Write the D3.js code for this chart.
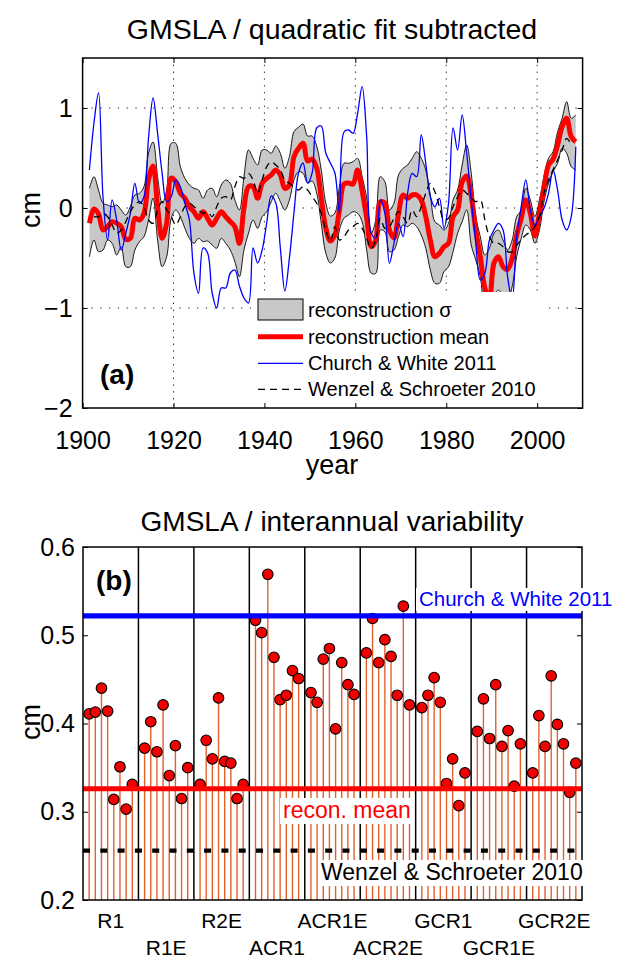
<!DOCTYPE html>
<html>
<head>
<meta charset="utf-8">
<script src="https://cdn.jsdelivr.net/npm/d3@7"></script>
<style>
body { margin: 0; background: #fff; }
text { font-family: "Liberation Sans", Arial, Helvetica, sans-serif; }
</style>
</head>
<body>
<svg id="chart" width="637" height="962"></svg>
<script>
// ---- panel (a): GMSLA anomalies, quadratic fit removed (cm) ----
const years = d3.range(1901.5, 2009, 1);

const reconMean = [
  -0.153, -0.01, -0.06, -0.22, -0.187, -0.137, -0.153, -0.187, -0.313, -0.303, -0.103, -0.12, -0.053, 0.28, 0.42, 0.013, -0.303, -0.15, 0.30, 0.263, 0.147, 0.097, 0.013, -0.037, -0.103, -0.037, -0.103,
  -0.17, -0.103, -0.037, -0.087, -0.137, -0.187, -0.353, 0.0, 0.213, 0.213, 0.097, 0.247, 0.297, 0.33, 0.38, 0.33, 0.197, 0.23, 0.513, 0.597, 0.647, 0.47, 0.49, 0.40, 0.1, -0.2, -0.33, -0.27,
  -0.02, 0.24, 0.25, 0.24, 0.38, 0.17, -0.1, -0.387, -0.32, 0.06, 0.05, -0.22, -0.3, -0.06, 0.13, 0.097, 0.13, 0.13, 0.08, -0.087, -0.32, -0.487, -0.453, -0.387, -0.353, -0.087, -0.02,
  0.26, 0.32, 0.12, -0.22, -0.487, -0.8, -0.92, -0.55, -0.487, -0.587, -0.613, -0.503, -0.27, -0.103, 0.08, -0.053, -0.28, -0.053, 0.197, 0.43, 0.487, 0.63, 0.813, 0.897, 0.713, 0.663
];
const sigmaUpper = [
  0.197, 0.313, 0.18, 0.047, 0.03, 0.013, 0.03, -0.02, -0.07, 0.013, 0.13, 0.147, 0.213, 0.547, 0.66, 0.313, 0.047, 0.18, 0.647, 0.647, 0.413, 0.297, 0.23, 0.197, 0.18, 0.097, 0.18,
  0.197, 0.113, 0.23, 0.28, 0.247, 0.08, -0.02, 0.313, 0.58, 0.497, 0.43, 0.58, 0.58, 0.547, 0.62, 0.547, 0.397, 0.513, 0.763, 0.807, 0.84, 0.72, 0.72, 0.62, 0.38, 0.05, -0.08, -0.05,
  0.213, 0.447, 0.447, 0.463, 0.497, 0.313, 0.1, -0.253, -0.12, 0.313, 0.263, -0.02, 0.047, 0.33, 0.397, 0.43, 0.497, 0.563, 0.497, 0.38, 0.13, -0.137, -0.17, -0.22, -0.153, 0.08, 0.18,
  0.43, 0.63, 0.347, -0.087, -0.287, -0.47, -0.403, -0.253, -0.22, -0.32, -0.42, -0.32, -0.087, -0.02, 0.197, 0.08, -0.087, 0.08, 0.313, 0.497, 0.563, 0.763, 0.897, 1.063, 0.897, 0.93
];
const sigmaLower = [
  -0.487, -0.32, -0.437, -0.42, -0.32, -0.353, -0.47, -0.387, -0.587, -0.587, -0.42, -0.337, -0.287, -0.12, 0.1, -0.32, -0.587, -0.487, -0.103, -0.02, -0.087, -0.203, -0.303, -0.353, -0.303, -0.337, -0.33,
  -0.37, -0.403, -0.303, -0.353, -0.42, -0.537, -0.687, -0.42, -0.253, -0.12, -0.203, -0.087, -0.037, 0.063, 0.147, 0.063, -0.02, 0.08, 0.28, 0.363, 0.347, 0.25, 0.27, 0.15, -0.15, -0.45, -0.55, -0.5,
  -0.22, -0.103, -0.07, -0.037, -0.053, -0.137, -0.42, -0.653, -0.653, -0.22, -0.237, -0.437, -0.42, -0.287, -0.17, -0.187, -0.153, -0.187, -0.27, -0.403, -0.62, -0.753, -0.753, -0.637, -0.587, -0.437, -0.253,
  -0.137, -0.02, -0.37, -0.52, -0.687, -1.0, -1.05, -0.887, -0.82, -0.887, -0.92, -0.787, -0.487, -0.303, -0.17, -0.22, -0.353, -0.22, 0.063, 0.247, 0.363, 0.447, 0.597, 0.547, 0.413, 0.38
];
const churchWhite = [
  0.38, 0.85, 1.15, 0.1, -0.32, 0.08, -0.12, -0.42, -0.253, -0.053, 0.247, 0.047, 0.113, 0.7, 1.1, 0.747, 0.347, 0.063, 0.113, 0.28, 0.213, 0.047, -0.12, -0.653, -0.853, -0.4, -0.45,
  -0.85, -1.0, -0.8, -0.8, -0.65, -0.62, -0.78, -0.9, -0.95, -0.4, -0.55, -0.42, -0.15, 0.12, 0.05, -0.4, -0.83, -0.5, -0.05, 0.35, 0.45, 0.25, 0.35, 0.8, 0.82, 0.55, 0.45, 0.35,
  -0.05, 0.76, 0.78, 0.747, 0.947, 1.213, 0.713, -0.25, -0.3, 0.08, -0.053, -0.553, -0.353, -0.153, -0.287, 0.147, 0.347, 0.313, 0.73, 0.447, 0.113, 0.013, 0.097, -0.203, 0.047, 0.8, 0.58,
  0.93, 0.547, 0.08, -0.353, -0.72, -0.653, -0.32, -0.22, -0.153, -0.22, -0.687, -0.92, -0.287, 0.013, 0.28, -0.02, -0.17, -0.087, -0.003, 0.147, 0.38, 0.18, -0.12, -0.22, -0.087, 0.613
];
const wenzelSchroeter = [
  null, -0.087, -0.087, -0.053, -0.087, -0.17, -0.253, -0.22, -0.137, -0.037, 0.03, 0.063, 0.013, -0.12, -0.153, -0.02, 0.063, -0.02, -0.087, -0.17, -0.087, 0.013, 0.047, 0.013, -0.02, -0.053, -0.04,
  -0.087, 0.013, 0.097, 0.113, 0.08, 0.213, 0.313, 0.297, 0.347, 0.28, 0.147, 0.28, 0.413, 0.463, 0.43, 0.38, 0.28, 0.247, 0.213, 0.18, 0.213, 0.18, 0.113, 0.047, -0.053, -0.22, -0.337, -0.187,
  -0.32, -0.287, -0.22, -0.187, -0.153, -0.203, -0.303, -0.403, -0.32, -0.103, -0.203, -0.187, -0.103, -0.037, -0.087, -0.153, -0.02, -0.087, 0.013, 0.147, 0.247, 0.163, 0.013, -0.12, -0.103, 0.013, 0.11,
  0.18, 0.147, 0.097, 0.063, 0.08, -0.12, -0.287, -0.353, -0.353, -0.387, -0.437, -0.437, -0.37, -0.32, -0.27, -0.237, -0.187, -0.087, 0.147, 0.28, 0.38, 0.48, 0.58, 0.697, 0.63, null
];
const yearTicks = [1900, 1920, 1940, 1960, 1980, 2000];
const cmTicksA = [-2, -1, 0, 1];
const legendLabels = ["reconstruction \u03c3", "reconstruction mean", "Church & White 2011", "Wenzel & Schroeter 2010"];

// ---- panel (b): interannual variability per reconstruction (cm) ----
const groupLabels = ["R1", "R1E", "R2E", "ACR1", "ACR1E", "ACR2E", "GCR1", "GCR1E", "GCR2E"];
const ivStd = [
  0.411, 0.413, 0.440, 0.414, 0.314, 0.351, 0.303, 0.331,
  0.372, 0.402, 0.368, 0.421, 0.341, 0.375, 0.315, 0.350,
  0.331, 0.381, 0.360, 0.429, 0.357, 0.355, 0.315, 0.331,
  0.517, 0.503, 0.569, 0.475, 0.427, 0.432, 0.460, 0.451,
  0.435, 0.424, 0.473, 0.485, 0.394, 0.469, 0.444, 0.433,
  0.480, 0.519, 0.469, 0.495, 0.476, 0.432, 0.533, 0.421,
  0.418, 0.432, 0.452, 0.424, 0.332, 0.360, 0.307, 0.344,
  0.391, 0.428, 0.383, 0.444, 0.374, 0.392, 0.329, 0.377,
  0.344, 0.409, 0.374, 0.454, 0.399, 0.377, 0.322, 0.355
];
const cwLevel = 0.522;
const reconLevel = 0.326;
const wsLevel = 0.256;
const cmTicksB = [0.2, 0.3, 0.4, 0.5, 0.6];

const svg = d3.select("#chart");

// ================= panel (a) =================
const xA = d3.scaleLinear().domain([1900, 2010]).range([82.6, 582.6]);
const yA = d3.scaleLinear().domain([-2, 1.5]).range([408, 58]);
const gA = svg.append("g");

svg.append("defs").append("clipPath").attr("id", "clipA")
  .append("rect")
  .attr("x", xA(1900)).attr("y", yA(1.5))
  .attr("width", xA(2010) - xA(1900)).attr("height", yA(-2) - yA(1.5));

// dotted grid
gA.selectAll(".vgrid").data(yearTicks.slice(1)).enter().append("line")
  .attr("x1", d => xA(d)).attr("x2", d => xA(d))
  .attr("y1", yA(1.5)).attr("y2", yA(-2))
  .attr("stroke", "#222").attr("stroke-width", 1).attr("stroke-dasharray", "1.3,5.5");
gA.selectAll(".hgrid").data([-1, 0, 1]).enter().append("line")
  .attr("x1", xA(1900)).attr("x2", xA(2010))
  .attr("y1", d => yA(d)).attr("y2", d => yA(d))
  .attr("stroke", "#222").attr("stroke-width", 1).attr("stroke-dasharray", "1.3,7.5");

const series = years.map((yr, i) => ({
  yr: yr, mean: reconMean[i], up: sigmaUpper[i], lo: sigmaLower[i],
  cw: churchWhite[i], ws: wenzelSchroeter[i]
}));
const curve = d3.curveCatmullRom.alpha(0.5);

const plotA = gA.append("g").attr("clip-path", "url(#clipA)");

plotA.append("path").datum(series)
  .attr("d", d3.area().x(d => xA(d.yr)).y0(d => yA(d.lo)).y1(d => yA(d.up)).curve(curve))
  .attr("fill", "#c8c8c8");
["up", "lo"].forEach(k => {
  plotA.append("path").datum(series)
    .attr("d", d3.line().x(d => xA(d.yr)).y(d => yA(d[k])).curve(curve))
    .attr("fill", "none").attr("stroke", "#000").attr("stroke-width", 0.9);
});
plotA.append("path").datum(series)
  .attr("d", d3.line().x(d => xA(d.yr)).y(d => yA(d.mean)).curve(curve))
  .attr("fill", "none").attr("stroke", "#ff0000").attr("stroke-width", 5).attr("stroke-linejoin", "round");
plotA.append("path").datum(series)
  .attr("d", d3.line().x(d => xA(d.yr)).y(d => yA(d.cw)).curve(curve))
  .attr("fill", "none").attr("stroke", "#0000ff").attr("stroke-width", 1.3);
plotA.append("path").datum(series)
  .attr("d", d3.line().defined(d => d.ws != null).x(d => xA(d.yr)).y(d => yA(d.ws)).curve(curve))
  .attr("fill", "none").attr("stroke", "#000").attr("stroke-width", 1.3).attr("stroke-dasharray", "7,5");

// legend (white box over the curves)
const leg = gA.append("g");
leg.append("rect").attr("x", 251).attr("y", 292).attr("width", 295).attr("height", 115).attr("fill", "#fff");
const legRows = [316.5, 343.5, 370, 396];
leg.append("rect").attr("x", 258).attr("y", 299).attr("width", 45).attr("height", 21)
  .attr("fill", "#c8c8c8").attr("stroke", "#000").attr("stroke-width", 1);
leg.append("line").attr("x1", 258).attr("x2", 303).attr("y1", 336.7).attr("y2", 336.7)
  .attr("stroke", "#ff0000").attr("stroke-width", 5);
leg.append("line").attr("x1", 258).attr("x2", 303).attr("y1", 363.3).attr("y2", 363.3)
  .attr("stroke", "#0000ff").attr("stroke-width", 1.3);
leg.append("line").attr("x1", 258).attr("x2", 303).attr("y1", 389.3).attr("y2", 389.3)
  .attr("stroke", "#000").attr("stroke-width", 1.3).attr("stroke-dasharray", "7,5");
leg.selectAll(".lt").data(legendLabels).enter().append("text")
  .attr("x", 308).attr("y", (d, i) => legRows[i])
  .attr("font-size", 20).attr("fill", "#000").text(d => d);

// axes
const minus = d => d < 0 ? "\u2212" + Math.abs(d) : String(d);
const axB = gA.append("g").attr("transform", "translate(0," + yA(-2) + ")")
  .call(d3.axisBottom(xA).tickValues(yearTicks).tickFormat(d3.format("d")).tickSizeInner(-5).tickSizeOuter(0).tickPadding(23));
const axL = gA.append("g").attr("transform", "translate(" + xA(1900) + ",0)")
  .call(d3.axisLeft(yA).tickValues(cmTicksA).tickFormat(minus).tickSizeInner(-5).tickSizeOuter(0).tickPadding(10));
gA.append("g").attr("transform", "translate(0," + yA(1.5) + ")")
  .call(d3.axisTop(xA).tickValues(yearTicks).tickSizeInner(-5).tickSizeOuter(0).tickFormat(""));
gA.append("g").attr("transform", "translate(" + xA(2010) + ",0)")
  .call(d3.axisRight(yA).tickValues(cmTicksA).tickSizeInner(-5).tickSizeOuter(0).tickFormat(""));
gA.selectAll(".domain").remove();
gA.selectAll(".tick line").attr("stroke", "#000").attr("stroke-width", 1);
[axB, axL].forEach(a => a.selectAll("text").attr("font-size", 25).attr("fill", "#000")
  .style("font-family", '"Liberation Sans", Arial, sans-serif'));

gA.append("rect").attr("x", xA(1900)).attr("y", yA(1.5))
  .attr("width", xA(2010) - xA(1900)).attr("height", yA(-2) - yA(1.5))
  .attr("fill", "none").attr("stroke", "#000").attr("stroke-width", 1.5);

gA.append("text").attr("x", 332).attr("y", 39).attr("text-anchor", "middle")
  .attr("font-size", 28.5).text("GMSLA / quadratic fit subtracted");
gA.append("text").attr("x", 332).attr("y", 474).attr("text-anchor", "middle")
  .attr("font-size", 27).text("year");
gA.append("text").attr("transform", "translate(40,210) rotate(-90)").attr("text-anchor", "middle")
  .attr("font-size", 27).text("cm");
gA.append("text").attr("x", 100).attr("y", 384).attr("font-size", 28).attr("font-weight", "bold").text("(a)");

// ================= panel (b) =================
const xB = d3.scaleLinear().domain([0, 81]).range([83, 582]);
const yB = d3.scaleLinear().domain([0.2, 0.6]).range([900, 547]);
const gB = svg.append("g");
const pts = ivStd.map((v, i) => ({ v: v, pos: Math.floor(i / 8) * 9 + (i % 8) + 1 }));

// group separators
gB.selectAll(".sep").data(d3.range(1, 9)).enter().append("line")
  .attr("x1", d => xB(d * 9)).attr("x2", d => xB(d * 9))
  .attr("y1", yB(0.6)).attr("y2", yB(0.2))
  .attr("stroke", "#000").attr("stroke-width", 1.5);

// stems and markers
gB.selectAll(".stem").data(pts).enter().append("line")
  .attr("x1", d => xB(d.pos)).attr("x2", d => xB(d.pos))
  .attr("y1", yB(0.2)).attr("y2", d => yB(d.v))
  .attr("stroke", "#e2602e").attr("stroke-width", 1.4);
gB.selectAll(".dot").data(pts).enter().append("circle")
  .attr("cx", d => xB(d.pos)).attr("cy", d => yB(d.v)).attr("r", 5.3)
  .attr("fill", "#f00000").attr("stroke", "#000").attr("stroke-width", 1.1);

// reference levels
gB.append("line").attr("x1", xB(0)).attr("x2", xB(81)).attr("y1", yB(cwLevel)).attr("y2", yB(cwLevel))
  .attr("stroke", "#0000ff").attr("stroke-width", 5.3);
gB.append("line").attr("x1", xB(0)).attr("x2", xB(81)).attr("y1", yB(reconLevel)).attr("y2", yB(reconLevel))
  .attr("stroke", "#ff0000").attr("stroke-width", 5);
gB.append("line").attr("x1", xB(0)).attr("x2", xB(81)).attr("y1", yB(wsLevel)).attr("y2", yB(wsLevel))
  .attr("stroke", "#000").attr("stroke-width", 4.2).attr("stroke-dasharray", "7,10.3");

// axes
const axBL = gB.append("g").attr("transform", "translate(" + xB(0) + ",0)")
  .call(d3.axisLeft(yB).tickValues(cmTicksB).tickFormat(d3.format(".1f")).tickSizeInner(-5).tickSizeOuter(0).tickPadding(8));
gB.append("g").attr("transform", "translate(" + xB(81) + ",0)")
  .call(d3.axisRight(yB).tickValues(cmTicksB).tickSizeInner(-5).tickSizeOuter(0).tickFormat(""));
gB.selectAll(".domain").remove();
gB.selectAll(".tick line").attr("stroke", "#000").attr("stroke-width", 1);
axBL.selectAll("text").attr("font-size", 25).attr("fill", "#000")
  .style("font-family", '"Liberation Sans", Arial, sans-serif');

gB.append("rect").attr("x", xB(0)).attr("y", yB(0.6))
  .attr("width", xB(81) - xB(0)).attr("height", yB(0.2) - yB(0.6))
  .attr("fill", "none").attr("stroke", "#000").attr("stroke-width", 1.5);

// group names, alternating rows
gB.selectAll(".gl").data(groupLabels).enter().append("text")
  .attr("x", (d, i) => xB(i * 9 + 4.5)).attr("y", (d, i) => i % 2 === 0 ? 928 : 955)
  .attr("text-anchor", "middle").attr("font-size", 21).text(d => d);

// labels with white background boxes
function boxedLabel(x, y, txt, color, size) {
  const g = gB.append("g");
  const t = g.append("text").attr("x", x).attr("y", y).attr("font-size", size).attr("fill", color).text(txt);
  const b = t.node().getBBox();
  g.insert("rect", "text").attr("x", b.x - 3).attr("y", b.y + 1)
    .attr("width", b.width + 6).attr("height", b.height).attr("fill", "#fff");
}
boxedLabel(419, 606, "Church & White 2011", "#0000ff", 20.5);
boxedLabel(283, 818, "recon. mean", "#ff0000", 23);
boxedLabel(321, 880, "Wenzel & Schroeter 2010", "#000", 23);

gB.append("text").attr("x", 332).attr("y", 531).attr("text-anchor", "middle")
  .attr("font-size", 28).text("GMSLA / interannual variability");
gB.append("text").attr("transform", "translate(40,722) rotate(-90)").attr("text-anchor", "middle")
  .attr("font-size", 27).text("cm");
gB.append("text").attr("x", 96).attr("y", 590).attr("font-size", 28).attr("font-weight", "bold").text("(b)");
</script>
</body>
</html>
